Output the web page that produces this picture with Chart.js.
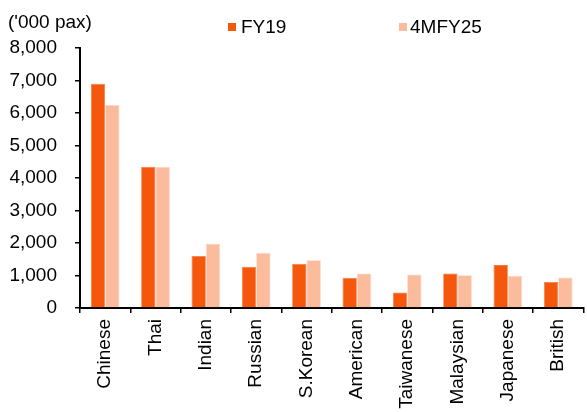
<!DOCTYPE html>
<html>
<head>
<meta charset="utf-8">
<script src="https://cdn.jsdelivr.net/npm/chart.js@4"></script>
<style>
  html, body { margin:0; padding:0; background:#fff; }
  #wrap { position:relative; width:587px; height:412px; font-family:"Liberation Sans", Arial, sans-serif; }
  canvas { position:absolute; left:0; top:0; }
  .t { position:absolute; font-size:19px; line-height:19px; color:#000; white-space:nowrap; }
  .box { position:absolute; width:8px; height:8px; }
</style>
</head>
<body>
<div id="wrap">
  <canvas id="c" width="587" height="412"></canvas>
  <div class="t" style="left:8px; top:12px;">('000 pax)</div>
  <div class="box" style="left:228px; top:23px; background:#F5570D;"></div>
  <div class="t" style="left:241px; top:17px;">FY19</div>
  <div class="box" style="left:399px; top:23px; background:#FBBC9E;"></div>
  <div class="t" style="left:410px; top:17px;">4MFY25</div>
</div>
<script>
const categories = ["Chinese","Thai","Indian","Russian","S.Korean","American","Taiwanese","Malaysian","Japanese","British"];
const fy19 = [6900, 4350, 1600, 1270, 1360, 930, 480, 1060, 1320, 800];
const fy25 = [6250, 4340, 1980, 1690, 1470, 1060, 1030, 1010, 990, 940];
const seriesNames = ["FY19", "4MFY25"];
const yMin = 0, yMax = 8000, yStep = 1000;

new Chart(document.getElementById('c'), {
  type: 'bar',
  data: {
    labels: categories,
    datasets: [
      { label: seriesNames[0], data: fy19, backgroundColor: '#F5570D', borderColor: '#F77A40', borderWidth: 0.8,
        categoryPercentage: 0.57, barPercentage: 1.0 },
      { label: seriesNames[1], data: fy25, backgroundColor: '#FBBC9E', borderColor: '#FDD3C0', borderWidth: 0.8,
        categoryPercentage: 0.57, barPercentage: 1.0 }
    ]
  },
  options: {
    responsive: false,
    animation: false,
    devicePixelRatio: 1,
    layout: { padding: { top: 48, right: 0, left: 0, bottom: 0 } },
    plugins: { legend: { display: false }, tooltip: { enabled: false } },
    scales: {
      x: {
        offset: true,
        grid: { display: true, offset: true, drawOnChartArea: false, drawTicks: true, tickLength: 5, color: '#000', lineWidth: 1.5 },
        border: { display: true, color: '#000', width: 2 },
        ticks: { color: '#000', font: { family: 'Liberation Sans, Arial', size: 19 }, minRotation: 90, maxRotation: 90, padding: 6, autoSkip: false },
        afterFit: (s) => { s.height = 104; }
      },
      y: {
        min: yMin, max: yMax,
        grid: { display: true, drawOnChartArea: false, drawTicks: true, tickLength: 5, color: '#000', lineWidth: 1.5 },
        border: { display: true, color: '#000', width: 2 },
        ticks: { stepSize: yStep, color: '#000', font: { family: 'Liberation Sans, Arial', size: 19 }, padding: 18,
          callback: (v) => v.toLocaleString('en-US') },
        afterFit: (s) => { s.width = 80; }
      }
    }
  }
});
</script>
</body>
</html>
